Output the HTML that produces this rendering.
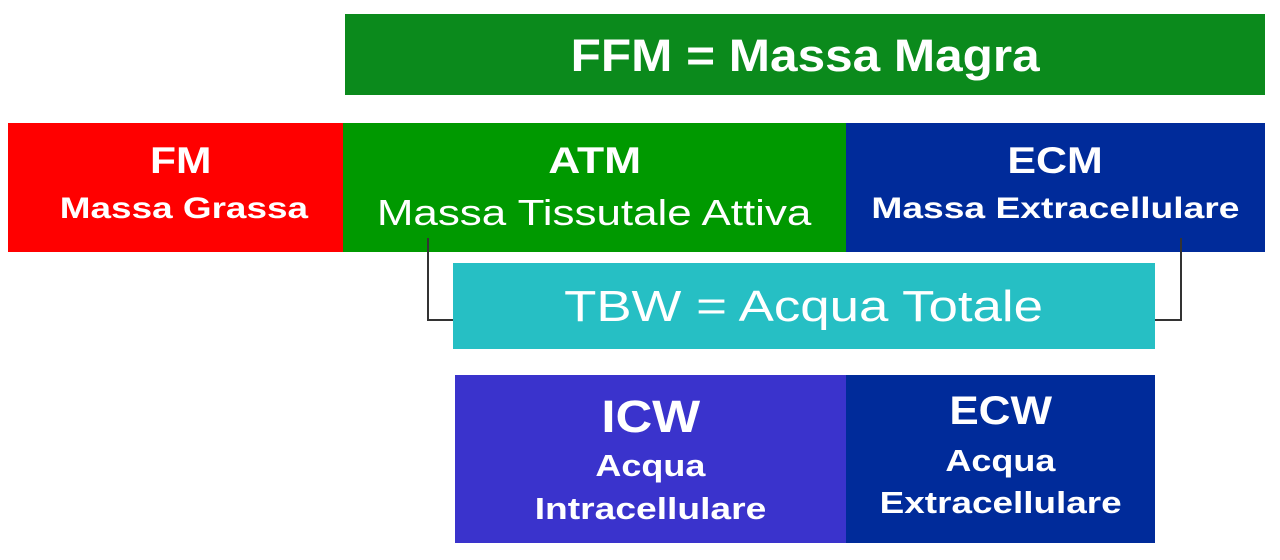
<!DOCTYPE html>
<html><head><meta charset="utf-8"><style>
body{margin:0;width:1280px;height:560px;background:#fff;position:relative;overflow:hidden;font-family:"Liberation Sans",Arial,sans-serif;color:#fff}
.b{position:absolute;text-align:center;box-sizing:border-box}
.t{position:absolute;left:0;right:0;text-align:center;white-space:nowrap}
.t span{display:inline-block}
.ln{position:absolute;background:#333}
</style></head><body>
<div class="b" style="left:345px;top:14px;width:920px;height:81px;background:#0b8a1c">
 <div class="t" style="top:16px;font-size:45px;font-weight:bold"><span style="transform:scaleX(1.1)">FFM = Massa Magra</span></div></div>
<div class="b" style="left:8px;top:123px;width:335px;height:129px;background:#ff0000">
 <div class="t" style="top:17px;left:10px;font-size:37px;font-weight:bold"><span style="transform:scaleX(1.15)">FM</span></div>
 <div class="t" style="top:69px;left:16px;font-size:30px;font-weight:bold"><span style="transform:scaleX(1.23)">Massa Grassa</span></div></div>
<div class="b" style="left:343px;top:123px;width:503px;height:129px;background:#009900">
 <div class="t" style="top:17px;font-size:37px;font-weight:bold"><span style="transform:scaleX(1.2)">ATM</span></div>
 <div class="t" style="top:69px;font-size:36px"><span style="transform:scaleX(1.22)">Massa Tissutale Attiva</span></div></div>
<div class="b" style="left:846px;top:123px;width:419px;height:129px;background:#002b9a">
 <div class="t" style="top:17px;font-size:37px;font-weight:bold"><span style="transform:scaleX(1.16)">ECM</span></div>
 <div class="t" style="top:69px;font-size:30px;font-weight:bold"><span style="transform:scaleX(1.24)">Massa Extracellulare</span></div></div>
<div class="ln" style="left:427px;top:238px;width:2px;height:83px"></div>
<div class="ln" style="left:427px;top:319px;width:27px;height:2px"></div>
<div class="ln" style="left:1180px;top:238px;width:2px;height:83px"></div>
<div class="ln" style="left:1155px;top:319px;width:27px;height:2px"></div>
<div class="b" style="left:453px;top:263px;width:702px;height:86px;background:#26bfc4">
 <div class="t" style="top:19px;font-size:44px"><span style="transform:scaleX(1.2)">TBW = Acqua Totale</span></div></div>
<div class="b" style="left:455px;top:375px;width:391px;height:168px;background:#3a33cc">
 <div class="t" style="top:16px;font-size:45px;font-weight:bold"><span style="transform:scaleX(1.13)">ICW</span></div>
 <div class="t" style="top:73px;font-size:31px;font-weight:bold"><span style="transform:scaleX(1.16)">Acqua</span></div>
 <div class="t" style="top:116px;font-size:31px;font-weight:bold"><span style="transform:scaleX(1.2)">Intracellulare</span></div></div>
<div class="b" style="left:846px;top:375px;width:309px;height:168px;background:#002b9a">
 <div class="t" style="top:14px;font-size:40px;font-weight:bold"><span style="transform:scaleX(1.1)">ECW</span></div>
 <div class="t" style="top:68px;font-size:31px;font-weight:bold"><span style="transform:scaleX(1.16)">Acqua</span></div>
 <div class="t" style="top:110px;font-size:31px;font-weight:bold"><span style="transform:scaleX(1.19)">Extracellulare</span></div></div>
</body></html>
